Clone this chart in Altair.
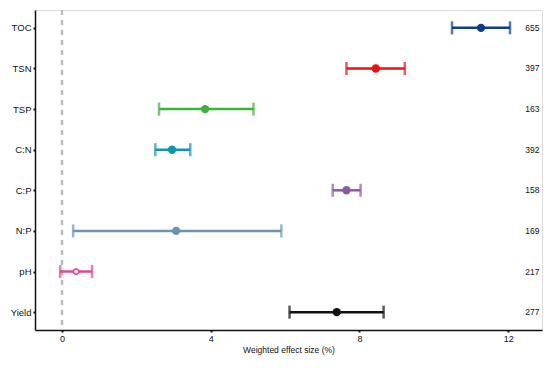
import altair as alt
import pandas as pd

categories = ["TOC", "TSN", "TSP", "C:N", "C:P", "N:P", "pH", "Yield"]
means = [11.27, 8.44, 3.85, 2.96, 7.65, 3.07, 0.38, 7.39]
lows = [10.49, 7.65, 2.61, 2.51, 7.28, 0.30, -0.05, 6.12]
highs = [12.05, 9.22, 5.15, 3.45, 8.03, 5.90, 0.81, 8.65]
counts = ["655", "397", "163", "392", "158", "169", "217", "277"]
colors = ["#0b3d8c", "#ee1111", "#3cb43c", "#0e96b4", "#8c5aa5", "#6b94b0", "#e8448f", "#111111"]
hollow = [False, False, False, False, False, False, True, False]
x_ticks = [0, 4, 8, 12]
count_x = 12.65

df = pd.DataFrame({
    "cat": categories, "mean": means, "low": lows, "high": highs,
    "n": counts, "hollow": hollow, "nx": [count_x] * len(categories),
})

xs = alt.Scale(domain=[-0.726, 12.91], nice=False, zero=False)
ys = alt.Scale(domain=categories, type="point", padding=0.44)
cs = alt.Scale(domain=categories, range=colors)

X = alt.X("mean:Q", scale=xs, axis=alt.Axis(
    values=x_ticks, title="Weighted effect size (%)", grid=False,
    labelFontSize=9, titleFontSize=8.5, titleFontWeight="normal",
    labelColor="#111", titleColor="#111", domainColor="#111", domainWidth=1.5,
    tickColor="#111", tickSize=2, tickWidth=2, labelPadding=2, titlePadding=2,
    labelFont="Liberation Sans", titleFont="Liberation Sans"))
Y = alt.Y("cat:N", scale=ys, sort=categories, axis=alt.Axis(
    title=None, grid=False, labelFontSize=9.5, labelColor="#111",
    domainColor="#111", domainWidth=1.5, tickColor="#111", tickSize=2, tickWidth=2,
    labelPadding=2, labelFont="Liberation Sans"))
C = alt.Color("cat:N", scale=cs, legend=None)

base = alt.Chart(df)

zero_line = alt.Chart(pd.DataFrame({"z": [0]})).mark_rule(
    color="#bbbbbb", strokeDash=[5, 5], strokeWidth=2.5
).encode(x=alt.X("z:Q", scale=xs))

rules = base.mark_rule(strokeWidth=2.5).encode(
    x=alt.X("low:Q", scale=xs), x2="high:Q", y=Y, color=C)
cap_lo = base.mark_tick(orient="vertical", size=13, thickness=2.5).encode(
    x=alt.X("low:Q", scale=xs), y=Y, color=C)
cap_hi = base.mark_tick(orient="vertical", size=13, thickness=2.5).encode(
    x=alt.X("high:Q", scale=xs), y=Y, color=C)
pts = base.transform_filter("!datum.hollow").mark_circle(size=70, opacity=1).encode(
    x=X, y=Y, color=C)
hpts = base.transform_filter("datum.hollow").mark_point(
    size=28, filled=False, strokeWidth=1.5, fill="white", fillOpacity=1, opacity=1
).encode(x=X, y=Y, stroke=alt.Stroke("cat:N", scale=cs, legend=None))
labels = base.mark_text(fontSize=8.5, color="#111", font="Liberation Sans").encode(
    x=alt.X("nx:Q", scale=xs), y=Y, text="n:N")

chart = alt.layer(zero_line, rules, cap_lo, cap_hi, pts, hpts, labels).properties(
    width=507, height=320,
    autosize=alt.AutoSizeParams(type="none"),
    padding={"left": 27, "top": 2, "right": 4, "bottom": 26},
).configure_view(stroke="#666666", strokeWidth=1.5).configure(background="white")

chart.save("out.html", embed_options={"renderer": "svg", "actions": False})
